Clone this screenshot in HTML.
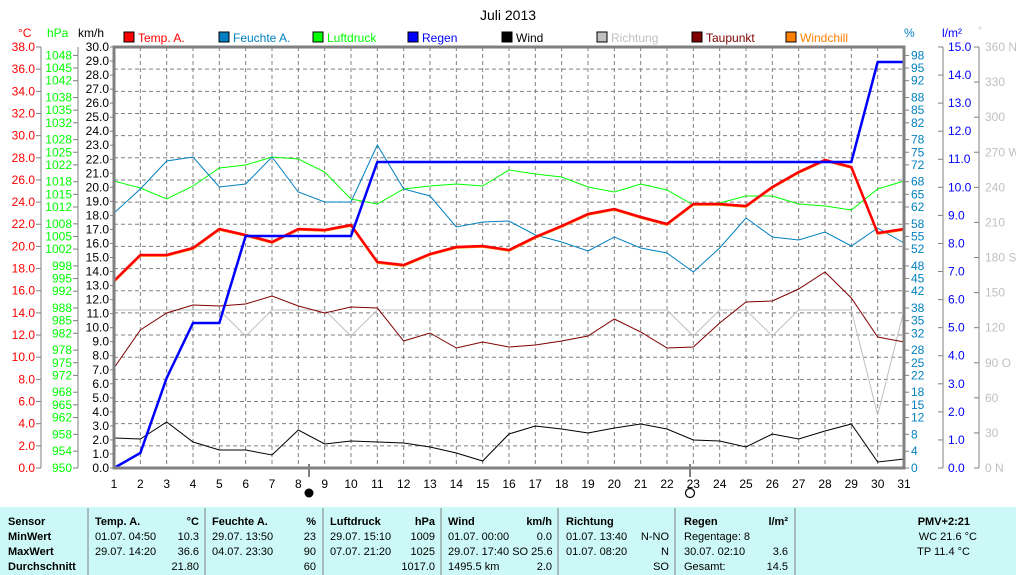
<!DOCTYPE html>
<html><head><meta charset="utf-8"><style>
body{margin:0;background:#fff;width:1016px;height:575px;overflow:hidden;font-family:"Liberation Sans",sans-serif;}
svg{display:block}
.t{font-size:12px;font-family:"Liberation Sans",sans-serif}
</style></head><body>
<svg width="1016" height="575" viewBox="0 0 1016 575" xmlns="http://www.w3.org/2000/svg">
<text x="508" y="20" text-anchor="middle" class="t" style="font-size:14px">Juli 2013</text>
<text x="18" y="37" class="t" fill="#ff0000">°C</text>
<text x="47" y="37" class="t" fill="#00ff00">hPa</text>
<text x="78" y="37" class="t" fill="#000">km/h</text>
<text x="904" y="37" class="t" fill="#0080c0">%</text>
<text x="942" y="37" class="t" fill="#0000ff">l/m²</text>
<text x="978" y="34" class="t" fill="#c0c0c0" style="font-size:10px">°</text>
<g class="t">
<rect x="124" y="32" width="10" height="10" fill="#ff0000" stroke="#000"/><text x="138" y="42" fill="#ff0000">Temp. A.</text>
<rect x="219" y="32" width="10" height="10" fill="#0080c0" stroke="#000"/><text x="233" y="42" fill="#0080c0">Feuchte A.</text>
<rect x="313" y="32" width="10" height="10" fill="#00ff00" stroke="#000"/><text x="327" y="42" fill="#00ff00">Luftdruck</text>
<rect x="408" y="32" width="10" height="10" fill="#0000ff" stroke="#000"/><text x="422" y="42" fill="#0000ff">Regen</text>
<rect x="502" y="32" width="10" height="10" fill="#000" stroke="#000"/><text x="516" y="42" fill="#000">Wind</text>
<rect x="597" y="32" width="10" height="10" fill="#c0c0c0" stroke="#000"/><text x="611" y="42" fill="#c0c0c0">Richtung</text>
<rect x="692" y="32" width="10" height="10" fill="#800000" stroke="#000"/><text x="706" y="42" fill="#800000">Taupunkt</text>
<rect x="786" y="32" width="10" height="10" fill="#ff8000" stroke="#000"/><text x="800" y="42" fill="#ff8000">Windchill</text>
</g>
<g id="grid" stroke="#808080" stroke-dasharray="4,3" stroke-width="1"></g>
<g stroke="#808080" stroke-width="1" fill="none">
<line x1="41" y1="47" x2="41" y2="468"/>
<line x1="78" y1="47" x2="78" y2="468"/>
<line x1="943" y1="47" x2="943" y2="468"/>
<line x1="979" y1="47" x2="979" y2="468"/>
</g>
<g id="ticks" stroke="#808080" stroke-width="1"></g>
<g class="t" fill="#ff0000" text-anchor="end" dominant-baseline="central">
<text x="35" y="468">0.0</text><text x="35" y="445.8">2.0</text><text x="35" y="423.7">4.0</text><text x="35" y="401.5">6.0</text><text x="35" y="379.4">8.0</text><text x="35" y="357.2">10.0</text><text x="35" y="335">12.0</text><text x="35" y="312.9">14.0</text><text x="35" y="290.7">16.0</text><text x="35" y="268.6">18.0</text><text x="35" y="246.4">20.0</text><text x="35" y="224.2">22.0</text><text x="35" y="202.1">24.0</text><text x="35" y="179.9">26.0</text><text x="35" y="157.8">28.0</text><text x="35" y="135.6">30.0</text><text x="35" y="113.4">32.0</text><text x="35" y="91.3">34.0</text><text x="35" y="69.1">36.0</text><text x="35" y="47">38.0</text>
</g>
<g class="t" fill="#00ff00" text-anchor="end" dominant-baseline="central">
<text x="72" y="468">950</text><text x="72" y="451.2">954</text><text x="72" y="434.3">958</text><text x="72" y="417.5">962</text><text x="72" y="404.9">965</text><text x="72" y="392.2">968</text><text x="72" y="375.4">972</text><text x="72" y="362.8">975</text><text x="72" y="350.1">978</text><text x="72" y="333.3">982</text><text x="72" y="320.7">985</text><text x="72" y="308">988</text><text x="72" y="291.2">992</text><text x="72" y="278.6">995</text><text x="72" y="265.9">998</text><text x="72" y="249.1">1002</text><text x="72" y="236.5">1005</text><text x="72" y="223.8">1008</text><text x="72" y="207">1012</text><text x="72" y="194.4">1015</text><text x="72" y="181.7">1018</text><text x="72" y="164.9">1022</text><text x="72" y="152.3">1025</text><text x="72" y="139.6">1028</text><text x="72" y="122.8">1032</text><text x="72" y="110.2">1035</text><text x="72" y="97.5">1038</text><text x="72" y="80.7">1042</text><text x="72" y="68.1">1045</text><text x="72" y="55.4">1048</text>
</g>
<g class="t" fill="#000" text-anchor="end" dominant-baseline="central">
<text x="109" y="468">0.0</text><text x="109" y="454">1.0</text><text x="109" y="439.9">2.0</text><text x="109" y="425.9">3.0</text><text x="109" y="411.9">4.0</text><text x="109" y="397.8">5.0</text><text x="109" y="383.8">6.0</text><text x="109" y="369.8">7.0</text><text x="109" y="355.7">8.0</text><text x="109" y="341.7">9.0</text><text x="109" y="327.7">10.0</text><text x="109" y="313.6">11.0</text><text x="109" y="299.6">12.0</text><text x="109" y="285.6">13.0</text><text x="109" y="271.5">14.0</text><text x="109" y="257.5">15.0</text><text x="109" y="243.5">16.0</text><text x="109" y="229.4">17.0</text><text x="109" y="215.4">18.0</text><text x="109" y="201.4">19.0</text><text x="109" y="187.3">20.0</text><text x="109" y="173.3">21.0</text><text x="109" y="159.3">22.0</text><text x="109" y="145.2">23.0</text><text x="109" y="131.2">24.0</text><text x="109" y="117.2">25.0</text><text x="109" y="103.1">26.0</text><text x="109" y="89.1">27.0</text><text x="109" y="75.1">28.0</text><text x="109" y="61">29.0</text><text x="109" y="47">30.0</text>
</g>
<g class="t" fill="#0080c0" dominant-baseline="central">
<text x="911" y="468">0</text><text x="911" y="451.2">4</text><text x="911" y="434.3">8</text><text x="911" y="417.5">12</text><text x="911" y="404.9">15</text><text x="911" y="392.2">18</text><text x="911" y="375.4">22</text><text x="911" y="362.8">25</text><text x="911" y="350.1">28</text><text x="911" y="333.3">32</text><text x="911" y="320.7">35</text><text x="911" y="308">38</text><text x="911" y="291.2">42</text><text x="911" y="278.6">45</text><text x="911" y="265.9">48</text><text x="911" y="249.1">52</text><text x="911" y="236.5">55</text><text x="911" y="223.8">58</text><text x="911" y="207">62</text><text x="911" y="194.4">65</text><text x="911" y="181.7">68</text><text x="911" y="164.9">72</text><text x="911" y="152.3">75</text><text x="911" y="139.6">78</text><text x="911" y="122.8">82</text><text x="911" y="110.2">85</text><text x="911" y="97.5">88</text><text x="911" y="80.7">92</text><text x="911" y="68.1">95</text><text x="911" y="55.4">98</text>
</g>
<g class="t" fill="#0000ff" dominant-baseline="central">
<text x="948" y="468">0.0</text><text x="948" y="439.9">1.0</text><text x="948" y="411.9">2.0</text><text x="948" y="383.8">3.0</text><text x="948" y="355.7">4.0</text><text x="948" y="327.7">5.0</text><text x="948" y="299.6">6.0</text><text x="948" y="271.5">7.0</text><text x="948" y="243.5">8.0</text><text x="948" y="215.4">9.0</text><text x="948" y="187.3">10.0</text><text x="948" y="159.2">11.0</text><text x="948" y="131.2">12.0</text><text x="948" y="103.1">13.0</text><text x="948" y="75">14.0</text><text x="948" y="47">15.0</text>
</g>
<g class="t" fill="#c0c0c0" dominant-baseline="central">
<text x="985" y="468">0   N</text><text x="985" y="432.9">30</text><text x="985" y="397.8">60</text><text x="985" y="362.8">90  O</text><text x="985" y="327.7">120</text><text x="985" y="292.6">150</text><text x="985" y="257.5">180 S</text><text x="985" y="222.4">210</text><text x="985" y="187.4">240</text><text x="985" y="152.3">270 W</text><text x="985" y="117.2">300</text><text x="985" y="82.1">330</text><text x="985" y="47">360 N</text>
</g>
<g class="t" fill="#000" text-anchor="middle">
<text x="114" y="488">1</text><text x="140.3" y="488">2</text><text x="166.7" y="488">3</text><text x="193" y="488">4</text><text x="219.3" y="488">5</text><text x="245.7" y="488">6</text><text x="272" y="488">7</text><text x="298.3" y="488">8</text><text x="324.7" y="488">9</text><text x="351" y="488">10</text><text x="377.3" y="488">11</text><text x="403.7" y="488">12</text><text x="430" y="488">13</text><text x="456.3" y="488">14</text><text x="482.7" y="488">15</text><text x="509" y="488">16</text><text x="535.3" y="488">17</text><text x="561.7" y="488">18</text><text x="588" y="488">19</text><text x="614.3" y="488">20</text><text x="640.7" y="488">21</text><text x="667" y="488">22</text><text x="693.3" y="488">23</text><text x="719.7" y="488">24</text><text x="746" y="488">25</text><text x="772.3" y="488">26</text><text x="798.7" y="488">27</text><text x="825" y="488">28</text><text x="851.3" y="488">29</text><text x="877.7" y="488">30</text><text x="904" y="488">31</text>
</g>
<line x1="309" y1="464" x2="309" y2="477" stroke="#000"/>
<circle cx="309" cy="493" r="4.5" fill="#000"/>
<line x1="690" y1="464" x2="690" y2="477" stroke="#000"/>
<circle cx="690" cy="493" r="4.5" fill="#fff" stroke="#000" stroke-width="1.2"/>
<g id="series" fill="none"></g>
<rect x="114" y="47" width="790" height="421" fill="none" stroke="#808080" stroke-width="3"/>
<rect x="0" y="507" width="1016" height="68" fill="#ccf9f7"/>
<g stroke="#808080" stroke-width="1">
<line x1="88" y1="508" x2="88" y2="575"/><line x1="205" y1="508" x2="205" y2="575"/><line x1="323" y1="508" x2="323" y2="575"/><line x1="441" y1="508" x2="441" y2="575"/><line x1="558" y1="508" x2="558" y2="575"/><line x1="675" y1="508" x2="675" y2="575"/><line x1="795" y1="508" x2="795" y2="575"/>
</g>
<g style="font-size:11px;font-family:'Liberation Sans',sans-serif" fill="#000">
<g font-weight="bold"><text x="8" y="525">Sensor</text><text x="8" y="540">MinWert</text><text x="8" y="555">MaxWert</text><text x="8" y="570">Durchschnitt</text>
<text x="95" y="525">Temp. A.</text><text x="199" y="525" text-anchor="end">°C</text>
<text x="212" y="525">Feuchte A.</text><text x="316" y="525" text-anchor="end">%</text>
<text x="330" y="525">Luftdruck</text><text x="435" y="525" text-anchor="end">hPa</text>
<text x="448" y="525">Wind</text><text x="552" y="525" text-anchor="end">km/h</text>
<text x="566" y="525">Richtung</text>
<text x="684" y="525">Regen</text><text x="788" y="525" text-anchor="end">l/m²</text>
<text x="970" y="525" text-anchor="end">PMV+2:21</text></g>
<text x="95" y="540">01.07.  04:50</text><text x="199" y="540" text-anchor="end">10.3</text>
<text x="95" y="555">29.07.  14:20</text><text x="199" y="555" text-anchor="end">36.6</text>
<text x="199" y="570" text-anchor="end">21.80</text>
<text x="212" y="540">29.07.  13:50</text><text x="316" y="540" text-anchor="end">23</text>
<text x="212" y="555">04.07.  23:30</text><text x="316" y="555" text-anchor="end">90</text>
<text x="316" y="570" text-anchor="end">60</text>
<text x="330" y="540">29.07.  15:10</text><text x="435" y="540" text-anchor="end">1009</text>
<text x="330" y="555">07.07.  21:20</text><text x="435" y="555" text-anchor="end">1025</text>
<text x="435" y="570" text-anchor="end">1017.0</text>
<text x="448" y="540">01.07.  00:00</text><text x="552" y="540" text-anchor="end">0.0</text>
<text x="448" y="555">29.07.  17:40 SO 25.6</text>
<text x="448" y="570">1495.5 km</text><text x="552" y="570" text-anchor="end">2.0</text>
<text x="566" y="540">01.07.  13:40</text><text x="669" y="540" text-anchor="end">N-NO</text>
<text x="566" y="555">01.07.  08:20</text><text x="669" y="555" text-anchor="end">N</text>
<text x="669" y="570" text-anchor="end">SO</text>
<text x="684" y="540">Regentage: 8</text>
<text x="684" y="555">30.07.  02:10</text><text x="788" y="555" text-anchor="end">3.6</text>
<text x="684" y="570">Gesamt:</text><text x="788" y="570" text-anchor="end">14.5</text>
<text x="977" y="540" text-anchor="end">WC 21.6 °C</text>
<text x="970" y="555" text-anchor="end">TP 11.4 °C</text>
</g>
</svg>
<script>
(function(){
var NS="http://www.w3.org/2000/svg";
function el(p,n,a){var e=document.createElementNS(NS,n);for(var k in a)e.setAttribute(k,a[k]);p.appendChild(e);return e;}
var g=document.getElementById("grid"),tk=document.getElementById("ticks"),s=document.getElementById("series");
function X(d){return 114+(d-1)*790/30;}
for(var d=2;d<=30;d++)el(g,"line",{x1:X(d),y1:47,x2:X(d),y2:468});
for(var k=1;k<=18;k++){var y=468-k*421/19;el(g,"line",{x1:114,y1:y,x2:904,y2:y});}
function ticks(x1,x2,arr){arr.forEach(function(y){el(tk,"line",{x1:x1,y1:y,x2:x2,y2:y});});}
var a=[];for(k=0;k<=19;k++)a.push(468-k*421/19);ticks(36,41,a);
var pv=[0,4,8,12,15,18,22,25,28,32,35,38,42,45,48,52,55,58,62,65,68,72,75,78,82,85,88,92,95,98];
a=pv.map(function(p){return 468-p*4.21;});ticks(73,78,a);ticks(904,909,a);
a=[];for(k=0;k<=30;k++)a.push(468-k*421/30);ticks(110,114,a);
a=[];for(k=0;k<=15;k++)a.push(468-k*421/15);ticks(938,943,a);
a=[];for(k=0;k<=12;k++)a.push(468-k*421/12);ticks(974,979,a);
function line(ys,col,w,pre){var pts=pre||[];ys.forEach(function(y,i){pts.push(X(i+1)+","+y);});el(s,"polyline",{points:pts.join(" "),stroke:col,"stroke-width":w});}
var dir=[310,310,310,310,310,336,310,310,310,336,310,310,310,310,310,310,310,310,310,310,310,310,336,310,310,336,310,310,310,415,310];
line(dir,"#c0c0c0",1,["114,310"]);
line([438,439,422,442,450,450,455,430,444,441,442,443,447,453,461,434,426,429,433,428,424,429,440,441,447,434,439,431,424,462,459],"#000",1);
line([368,330,313,305,306,304,296,306,313,307,308,341,333,348,342,347,345,341,336,319,332,348,347,323,302,301,289,272,298,337,342],"#800000",1);
line([181,188,199,186,168,165,157,159,172,199,204,189,186,184,186,170,174,177,187,192,184,190,205,203,196,196,204,206,210,189,181],"#00ff00",1);
line([213,189,161,157,187,184,157,192,202,202,145,189,196,227,222,221,235,242,251,237,248,253,272,248,218,237,240,232,246,228,243],"#0080c0",1);
var T=[281,255,255,248,229,235,242,229,230,225,262,265,254,247,246,250,237,226,214,209,217,224,204,204,206,187,172,160,167,233,229];
line(T.map(function(y){return y+0.8;}),"#ff8000",2);
line(T,"#ff0000",2.5);
line([468,453,378,323,323,236,236,236,236,236,162,162,162,162,162,162,162,162,162,162,162,162,162,162,162,162,162,162,162,62,62],"#0000ff",2.5);
})();
</script>
</body></html>
